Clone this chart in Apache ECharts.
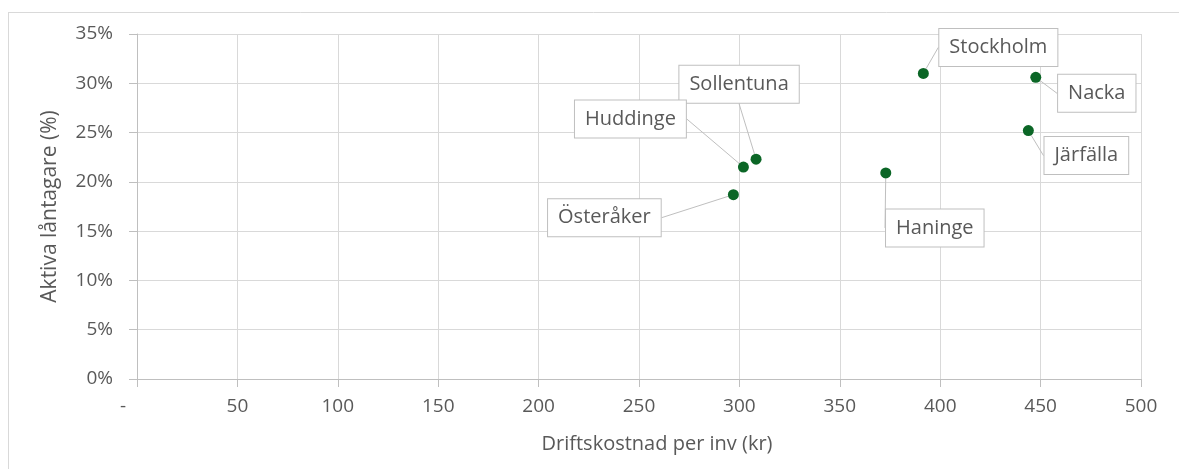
<!DOCTYPE html>
<html>
<head>
<meta charset="utf-8">
<script src="https://cdn.jsdelivr.net/npm/echarts@6/dist/echarts.min.js"></script>
<style>
    html, body { margin: 0; padding: 0; background: #fff; }
    #chart { width: 1179px; height: 469px; }
</style>
</head>
<body>
<div id="chart"></div>
<script>
// kommuner, driftskostnad per inv (kr) och andel aktiva låntagare (%)
var names = ['Stockholm', 'Nacka', 'Järfälla', 'Haninge', 'Sollentuna', 'Huddinge', 'Österåker'];
var cost = [391.6, 447.6, 443.9, 372.9, 308.3, 302.0, 297.0];
var share = [31.0, 30.6, 25.2, 20.9, 22.3, 21.5, 18.7];

// var etikett sitter i förhållande till punkten (px)
var labelOffsets = [[75, -26], [61, 16], [58, 25], [49, 55], [-17, -75], [-113, -48], [-129, 23]];

var grey = '#595959';
var font = '"Open Sans", "Noto Sans", sans-serif';

var points = names.map(function (n, i) {
    return {name: n, value: [cost[i], share[i]]};
});

var chart = echarts.init(document.getElementById('chart'));

var option = {
    backgroundColor: '#fff',
    animation: false,
    textStyle: {fontFamily: font},
    grid: {left: 137, right: 38, top: 34, bottom: 90},
    graphic: [
        {type: 'line', shape: {x1: 8, y1: 12.5, x2: 1179, y2: 12.5}, style: {stroke: '#d9d9d9', lineWidth: 1}},
        {type: 'line', shape: {x1: 8.5, y1: 12, x2: 8.5, y2: 469}, style: {stroke: '#d9d9d9', lineWidth: 1}}
    ],
    xAxis: {
        type: 'value',
        min: 0,
        max: 500,
        interval: 50,
        name: 'Driftskostnad per inv (kr)',
        nameLocation: 'middle',
        nameGap: 55,
        nameTextStyle: {color: grey, fontSize: 20, fontFamily: font, padding: [0, 0, 0, 36]},
        axisLine: {show: true, lineStyle: {color: '#bfbfbf'}},
        axisTick: {show: true, length: 8, lineStyle: {color: '#bfbfbf'}},
        axisLabel: {
            color: grey,
            fontSize: 19,
            fontFamily: font,
            margin: 18,
            formatter: function (v) {
                return v === 0 ? '{d|-}' : String(v);
            },
            rich: {
                d: {color: grey, fontSize: 19, fontFamily: font, padding: [0, 28, 0, 0]}
            }
        },
        splitLine: {show: true, lineStyle: {color: '#d9d9d9'}}
    },
    yAxis: {
        type: 'value',
        min: 0,
        max: 35,
        interval: 5,
        name: 'Aktiva låntagare (%)',
        nameLocation: 'middle',
        nameGap: 76,
        nameTextStyle: {color: grey, fontSize: 21, fontFamily: font},
        axisLine: {show: true, lineStyle: {color: '#bfbfbf'}},
        axisTick: {show: true, length: 8, lineStyle: {color: '#bfbfbf'}},
        axisLabel: {color: grey, fontSize: 19, fontFamily: font, margin: 24, formatter: '{value}%'},
        splitLine: {show: true, lineStyle: {color: '#d9d9d9'}}
    },
    series: [{
        type: 'scatter',
        symbol: 'circle',
        symbolSize: 11,
        itemStyle: {color: '#0b6626', opacity: 1},
        data: points,
        label: {
            show: true,
            position: 'inside',
            formatter: '{b}',
            color: grey,
            fontSize: 20,
            fontFamily: font,
            backgroundColor: '#fff',
            borderColor: '#bfbfbf',
            borderWidth: 1,
            padding: [9, 10, 8, 10]
        },
        labelLine: {
            show: true,
            lineStyle: {color: '#bfbfbf', width: 1}
        },
        labelLayout: function (p) {
            var o = labelOffsets[p.dataIndex];
            return {dx: o[0], dy: o[1]};
        }
    }]
};

chart.setOption(option);
</script>
</body>
</html>
